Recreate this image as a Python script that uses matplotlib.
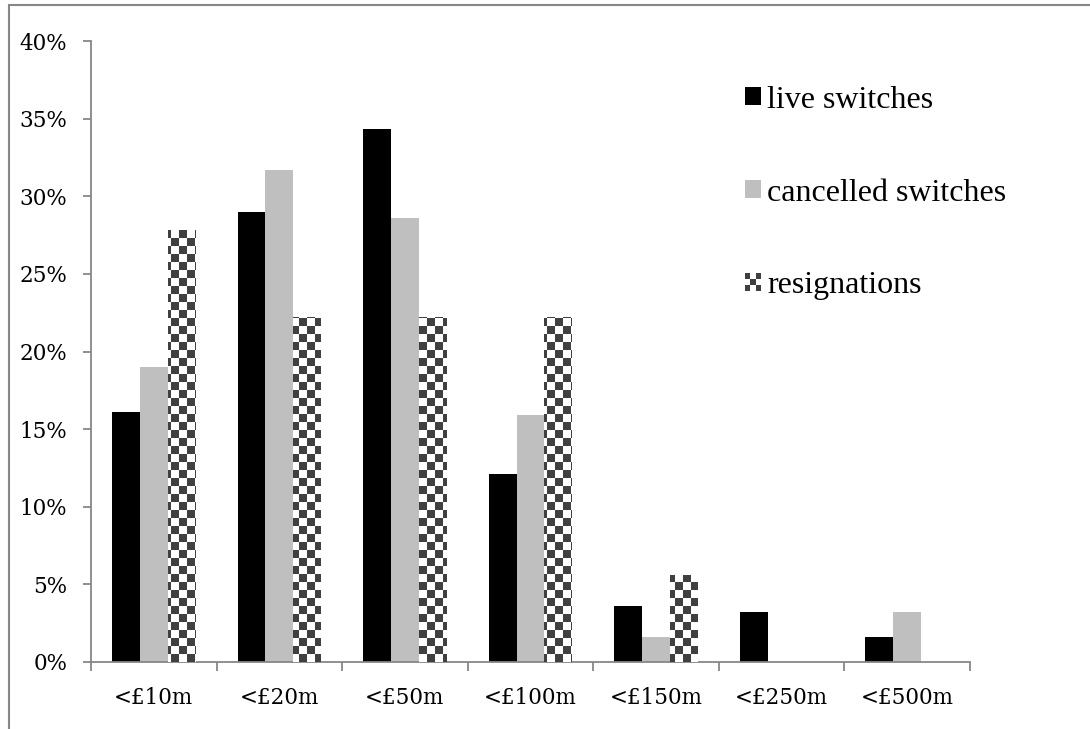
import numpy as np
import matplotlib.pyplot as plt
from matplotlib.colors import ListedColormap
from matplotlib.patches import Patch, Rectangle
from matplotlib.legend_handler import HandlerBase

categories = ["<£10m", "<£20m", "<£50m", "<£100m", "<£150m", "<£250m", "<£500m"]
live_switches = [16.1, 29.0, 34.3, 12.1, 3.6, 3.2, 1.6]
cancelled_switches = [19.0, 31.7, 28.6, 15.9, 1.6, 0.0, 3.2]
resignations = [27.8, 22.2, 22.2, 22.2, 5.6, 0.0, 0.0]
series_names = ["live switches", "cancelled switches", "resignations"]
yticks = [0, 5, 10, 15, 20, 25, 30, 35, 40]

DARK = "#404040"
GREY = "#bfbfbf"
AXIS = "#878787"
SQ = 8  # checker square size in pixels


class CheckerHandler(HandlerBase):
    def create_artists(self, legend, orig_handle, xdescent, ydescent,
                       width, height, fontsize, trans):
        n = 3
        w, h = width / n, height / n
        arts = [Rectangle((-xdescent, -ydescent), width, height,
                          facecolor="white", edgecolor="none", transform=trans)]
        for i in range(n):
            for j in range(n):
                if (i + j) % 2 == 0:
                    arts.append(Rectangle((-xdescent + i * w, -ydescent + j * h), w, h,
                                          facecolor=DARK, edgecolor="none",
                                          transform=trans))
        return arts


fig = plt.figure(figsize=(10.9, 7.29), dpi=100)
ax = fig.add_axes([91 / 1090, 67 / 729, 879 / 1090, 621 / 729])

x = np.arange(len(categories))
bw = 0.222
ax.bar(x - bw, live_switches, bw, color="black", zorder=2)
ax.bar(x, cancelled_switches, bw, color=GREY, zorder=2)
res_bars = ax.bar(x + bw, resignations, bw, color="white", zorder=2)

# checkerboard fill for the resignations bars
ncol = int(np.ceil(879 / SQ))
nrow = int(np.ceil(621 / SQ))
board = (np.add.outer(np.arange(nrow), np.arange(ncol)) % 2).astype(float)
x_ext = -0.5 + ncol * SQ / 879 * len(categories)
y_ext = nrow * SQ / 621 * 40
for rect in res_bars:
    im = ax.imshow(board, cmap=ListedColormap([DARK, "white"]),
                   extent=(-0.5, x_ext, 0, y_ext), origin="lower",
                   aspect="auto", interpolation="nearest", zorder=3)
    im.set_clip_path(rect)
ax.set_xlim(-0.5, len(categories) - 0.5)
ax.set_ylim(0, 40)

for s in ["top", "right"]:
    ax.spines[s].set_visible(False)
for s in ["left", "bottom"]:
    ax.spines[s].set_color(AXIS)
    ax.spines[s].set_linewidth(1.3)

tick_font = {"family": "DejaVu Serif", "size": 15.5}
ax.set_yticks(yticks)
ax.set_yticklabels([f"{v}%" for v in yticks], **tick_font)
ax.tick_params(axis="y", length=6, width=1.3, color=AXIS, pad=11)

ax.set_xticks(x)
ax.set_xticklabels(categories, **tick_font)
ax.set_xticks(np.arange(len(categories) + 1) - 0.5, minor=True)
ax.tick_params(axis="x", which="major", length=0, pad=18)
ax.tick_params(axis="x", which="minor", length=6.5, width=1.3, color=AXIS)

handles = [Patch(facecolor="black"), Patch(facecolor=GREY), Patch(facecolor="white")]
ax.legend(handles, series_names, loc="upper left", bbox_to_anchor=(0.744, 0.928),
          frameon=False, borderpad=0, borderaxespad=0,
          handlelength=0.5, handleheight=0.5, handletextpad=0.2, labelspacing=2.0,
          prop={"family": "Liberation Serif", "size": 23},
          handler_map={handles[2]: CheckerHandler()})

# outer frame of the chart area
fig.add_artist(Rectangle((9 / 1090, -0.1), 1.2, 1 - 5 / 729 + 0.1,
                         transform=fig.transFigure, fill=False,
                         edgecolor=AXIS, linewidth=1.5))

fig.savefig("out.png", dpi=100)
